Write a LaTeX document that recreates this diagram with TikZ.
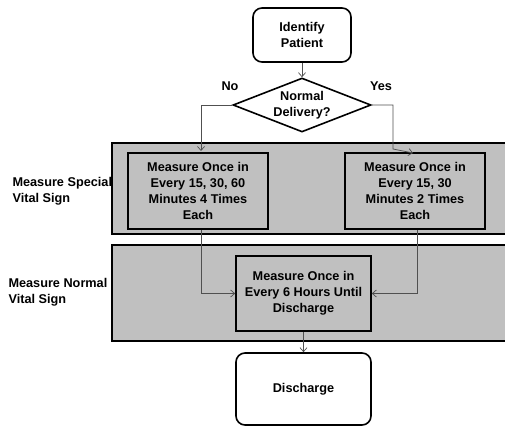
\documentclass[tikz,border=0pt]{standalone}
\usepackage{fontspec}
\setmainfont{Liberation Sans}
\usetikzlibrary{arrows.meta,shapes.geometric}
\definecolor{panelgray}{HTML}{C0C0C0}
\definecolor{linegray}{HTML}{505050}
\begin{document}
\begin{tikzpicture}[x=1pt,y=-1pt,
  every node/.style={font=\fontsize{12.7}{16}\selectfont\bfseries},
  panel/.style={draw=black,line width=1.6pt,fill=panelgray},
  procbox/.style={draw=black,line width=1.6pt,fill=panelgray,align=center,inner sep=0pt},
  termbox/.style={draw=black,line width=1.6pt,fill=white,rounded corners=9pt,align=center,inner sep=0pt},
  decis/.style={draw=black,line width=1.6pt,fill=white,diamond,aspect=2.6,inner sep=0pt,align=center},
  conn/.style={draw=linegray,line width=0.7pt,-{Straight Barb[length=4pt,width=7pt]}},
  lab/.style={align=left,anchor=west}]
\useasboundingbox (0,0) rectangle (505,427);
% panels
\path[panel] (112,143) rectangle (520,234);
\path[panel] (112,245) rectangle (520,341);
% nodes
\node[termbox,minimum width=98pt,minimum height=54pt] (idp) at (302,35) {Identify\\Patient};
\node[decis,minimum width=138pt,minimum height=54pt] (dia) at (302,105) {Normal\\Delivery?};
\node[procbox,minimum width=140pt,minimum height=76pt] (b1) at (198,191) {Measure Once in\\Every 15, 30, 60\\Minutes 4 Times\\Each};
\node[procbox,minimum width=140pt,minimum height=76pt] (b2) at (415,191) {Measure Once in\\Every 15, 30\\Minutes 2 Times\\Each};
\node[procbox,minimum width=135pt,minimum height=75pt] (b3) at (303.5,293.5) {Measure Once in\\Every 6 Hours Until\\Discharge};
\node[termbox,minimum width=135pt,minimum height=72pt] (dis) at (303.5,389) {Discharge};
% labels
\node (no) at (230,86) {No};
\node (yes) at (381,86) {Yes};
\node[lab] (l1) at (9,191) {Measure Special\\Vital Sign};
\node[lab] (l2) at (5,292) {Measure Normal\\Vital Sign};
% connectors
\coordinate (noend) at (201,151);
\coordinate (yesend) at (413,153);
\coordinate (yescorner) at (393,149);
\draw[conn] (idp.south) -- (dia.north);
\draw[conn] (dia.west) -| (noend);
\draw[conn] (dia.east) -| (yescorner) -- (yesend);
\draw[conn] (b1.south -| noend) |- (b3.west);
\draw[conn] (b2.south) ++(2,0) |- (b3.east);
\draw[conn] (b3.south) -- (dis.north);
\end{tikzpicture}
\end{document}
